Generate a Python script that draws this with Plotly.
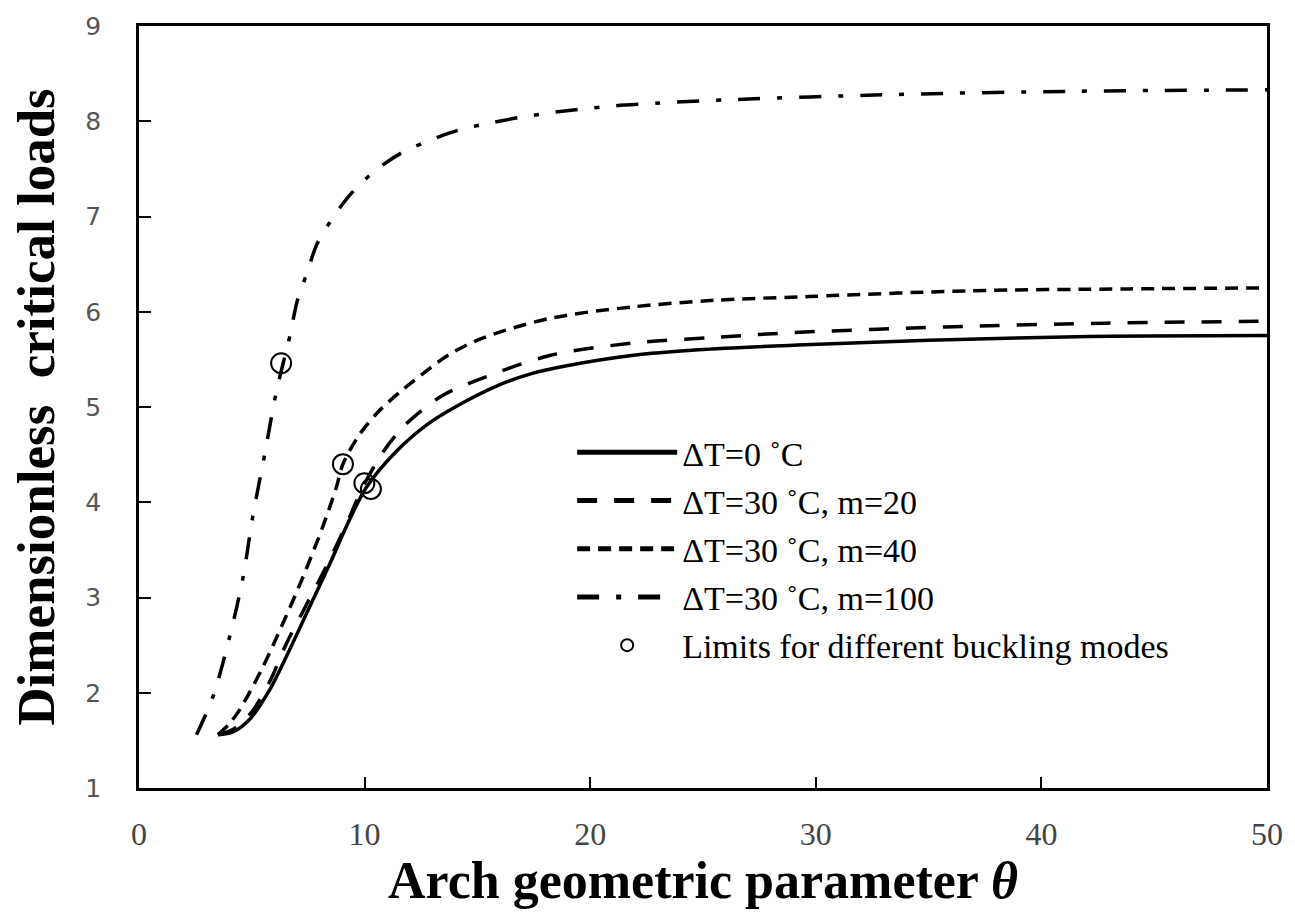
import plotly.graph_objects as go

# ---- data ----
x_dt0 = [3.5, 4.17, 4.9, 5.79, 6.67, 7.56, 8.45, 9.32, 10.06, 11.39, 12.86, 14.48, 15.95, 17.4, 18.9, 21.84, 24.8, 29.2, 35.0, 42.1, 50]
y_dt0 = [1.56, 1.59, 1.72, 2.03, 2.45, 2.9, 3.35, 3.81, 4.15, 4.53, 4.83, 5.06, 5.23, 5.35, 5.43, 5.54, 5.6, 5.65, 5.70, 5.74, 5.75]

x_m20 = [3.5, 4.2, 5.0, 5.8, 6.5, 7.26, 8.29, 9.18, 9.9, 10.8, 11.83, 13.45, 15.2, 18.2, 21.84, 25.5, 28.9, 35.7, 42.8, 50]
y_m20 = [1.56, 1.62, 1.8, 2.12, 2.5, 2.85, 3.32, 3.76, 4.15, 4.52, 4.82, 5.12, 5.30, 5.54, 5.67, 5.73, 5.78, 5.84, 5.88, 5.9]

x_m40 = [3.5, 4.02, 4.46, 5.49, 6.38, 7.26, 8.14, 8.74, 9.04, 9.77, 10.65, 11.68, 12.86, 13.74, 15.2, 18.2, 21.84, 25.5, 29.7, 36.8, 43.9, 50]
y_m40 = [1.56, 1.68, 1.82, 2.27, 2.73, 3.21, 3.74, 4.15, 4.40, 4.71, 4.96, 5.18, 5.40, 5.55, 5.72, 5.93, 6.05, 6.12, 6.16, 6.22, 6.24, 6.25]

x_m100 = [2.55, 3.28, 4.02, 4.61, 5.05, 5.57, 6.08, 6.71, 7.01, 7.45, 7.89, 8.63, 9.44, 10.47, 11.65, 12.9, 14.2, 15.55, 16.87, 18.27, 19.67, 21.0, 22.3, 25.0, 33.4, 41.5, 50]
y_m100 = [1.56, 1.96, 2.59, 3.21, 3.86, 4.5, 5.15, 5.77, 6.11, 6.41, 6.71, 7.0, 7.25, 7.48, 7.67, 7.8, 7.91, 7.98, 8.04, 8.09, 8.13, 8.16, 8.18, 8.215, 8.28, 8.315, 8.33]

x_limits = [6.3, 9.04, 9.99, 10.28]
y_limits = [5.46, 4.40, 4.2, 4.14]

names = ["ΔT=0 ˚C", "ΔT=30 ˚C, m=20", "ΔT=30 ˚C, m=40", "ΔT=30 ˚C, m=100",
         "Limits for different buckling modes"]

x_ticks = [0, 10, 20, 30, 40, 50]
y_ticks = [1, 2, 3, 4, 5, 6, 7, 8, 9]

# ---- figure ----
fig = go.Figure()
series = [(x_dt0, y_dt0, "solid"), (x_m20, y_m20, "20px,17px"),
          (x_m40, y_m40, "13px,8px"), (x_m100, y_m100, "22px,17px,5px,17px")]
for i, (xs, ys, dash) in enumerate(series):
    fig.add_trace(go.Scatter(x=xs, y=ys, mode="lines", name=names[i],
                             legendgroup=str(i),
                             line=dict(color="black", width=3.5, dash=dash, shape="spline", smoothing=0.9)))
fig.add_trace(go.Scatter(x=x_limits, y=y_limits, mode="markers", name=names[4], legendgroup="4",
                         marker=dict(symbol="circle-open", size=20, color="black", line=dict(width=2))))

fig.update_layout(
    width=1295, height=919,
    margin=dict(l=139, r=24, t=23, b=131),
    plot_bgcolor="white", paper_bgcolor="white",
    showlegend=True,
    legend=dict(x=0.384, y=0.478, xanchor="left", yanchor="top",
                font=dict(family="Liberation Serif", size=34, color="black"),
                bgcolor="rgba(0,0,0,0)", itemwidth=100, tracegroupgap=1,
                itemsizing="constant"),
    font=dict(family="Liberation Serif", color="black"),
)
fig.update_xaxes(range=[0, 50], tickvals=x_ticks, ticks="inside", ticklen=11, tickwidth=2,
                 tickcolor="black", showline=True, linewidth=2.5, linecolor="black", mirror=True,
                 showgrid=False, zeroline=False, ticklabelstandoff=16,
                 tickfont=dict(family="Liberation Serif", size=32, color="#444444"),
                 title=dict(text="<b>Arch geometric parameter <i>θ</i></b>", standoff=4,
                            font=dict(family="Liberation Serif", size=52, color="black")))
fig.update_yaxes(range=[1, 9], tickvals=y_ticks, ticks="inside", ticklen=12, tickwidth=2,
                 tickcolor="black", showline=True, linewidth=2.5, linecolor="black", mirror=True,
                 showgrid=False, zeroline=False, ticklabelstandoff=30,
                 tickfont=dict(family="DejaVu Sans", size=25, color="#555555"),
                 title=dict(text="<b>Dimensionless  critical loads</b>", standoff=14,
                            font=dict(family="Liberation Serif", size=53, color="black")))

fig.write_html("out.html")
